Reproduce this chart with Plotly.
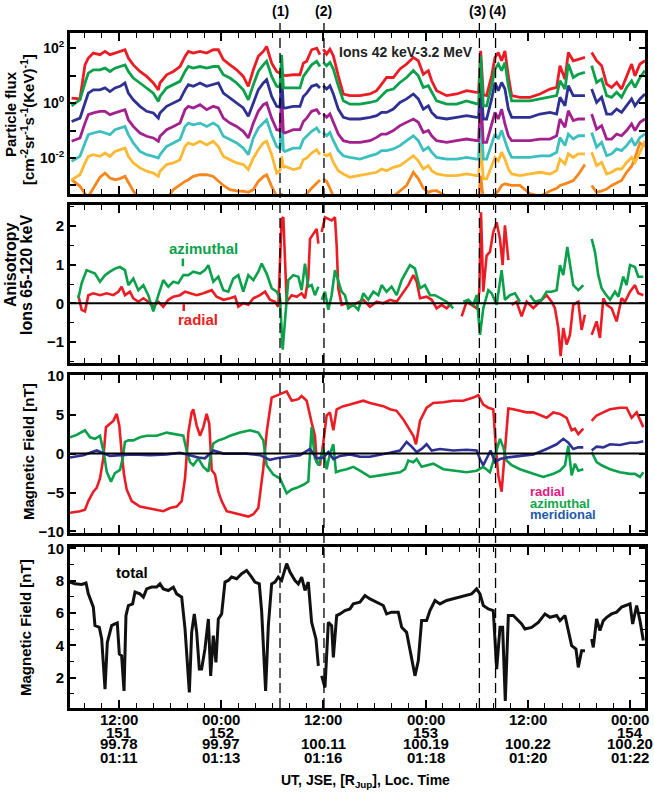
import plotly.graph_objects as go

# ---------------- time axis: hours since day 151 00:00 UT ----------------
x_range = [6.25, 73.74]
tick_hours = [12, 24, 36, 48, 60, 72]
tick_ut = ['12:00', '00:00', '12:00', '00:00', '12:00', '00:00']
tick_doy = ['151', '152', '', '153', '', '154']
tick_rjup = ['99.78', '99.97', '100.11', '100.19', '100.22', '100.20']
tick_lt = ['01:11', '01:13', '01:16', '01:18', '01:20', '01:22']
event_hours = [30.9, 36.06, 54.3, 56.2]
event_labels = ['(1)', '(2)', '(3)', '(4)']

# ---------------- panel 1: ion flux channels, log10 values ----------------
t_flux_a = [6.44, 7.42, 8.01, 8.40, 8.99, 9.77, 10.36, 10.94, 11.53, 12.12,
            12.70, 13.10, 13.68, 14.46, 15.25, 16.03, 16.62, 16.81, 17.59, 18.38,
            19.16, 19.75, 20.14, 20.72, 21.51, 22.29, 23.07, 23.66, 24.25, 25.03,
            25.81, 26.59, 27.18, 27.77, 28.35, 28.94, 29.33, 29.92, 30.51, 30.90,
            31.09, 31.29, 31.48, 32.46, 33.24, 33.64, 34.03, 34.61, 35.20, 35.59]
t_flux_b = [35.98, 36.37, 36.76, 37.16, 37.74, 38.33, 39.11, 40.28, 41.46, 42.24,
            42.83, 43.41, 44.20, 44.98, 45.76, 46.55, 47.13, 47.72, 48.31, 48.70,
            49.28, 50.46, 51.63, 52.80, 53.98, 54.21, 54.45, 54.76, 55.15, 55.74,
            56.13, 56.52, 56.91, 57.30, 57.70, 58.09, 59.06, 60.24, 61.41, 62.59,
            63.37, 63.76, 64.35, 64.74, 65.32, 65.91, 66.69]
t_flux_c = [67.48, 68.06, 68.65, 69.24, 69.82, 70.41, 70.99, 71.58, 72.17, 72.56, 73.15, 73.74]

lf_red_a = [0.18, 0.15, 1.39, 1.64, 1.82, 1.76, 1.88, 1.76, 1.82, 1.88,
            1.94, 1.64, 1.39, 1.15, 0.97, 0.73, 0.48, 0.73, 1.03, 1.15,
            1.33, 1.70, 1.88, 1.82, 1.88, 1.82, 1.94, 1.94, 1.58, 1.39,
            1.21, 0.97, 0.61, 1.21, 1.70, 1.88, 2.06, 1.45, 1.15, 1.08,
            1.03, 1.02, 1.00, 1.03, 1.03, 1.45, 1.52, 1.94, 2.00, 1.76]
lf_red_b = [1.96, 1.78, 1.96, 1.72, 0.99, 0.33, 0.27, 0.27, 0.33, 0.45,
            0.69, 0.93, 0.93, 1.24, 1.42, 1.66, 1.54, 1.05, 1.18, 0.81,
            0.45, 0.27, 0.33, 0.45, 0.39, 0.39, 1.90, 0.30, 0.27, 0.99,
            1.66, 1.84, 1.54, 1.90, 0.99, 0.27, 0.21, 0.21, 0.33, 0.51,
            0.57, 1.36, 0.87, 1.84, 1.54, 1.60, 1.66]
lf_red_c = [1.84, 1.54, 1.36, 0.69, 0.57, 0.75, 0.51, 0.99, 1.42, 0.99, 1.42, 1.54]

lf_green_a = [-0.10, 0.12, 0.73, 1.09, 1.21, 1.21, 1.27, 1.15, 1.27, 1.33,
              1.39, 1.15, 0.91, 0.73, 0.55, 0.36, 0.06, 0.24, 0.55, 0.67,
              0.79, 1.15, 1.33, 1.27, 1.33, 1.27, 1.33, 1.33, 1.03, 0.91,
              0.73, 0.48, 0.12, 0.67, 1.15, 1.39, 1.52, 0.97, 0.61, 0.58,
              1.76, 0.56, 0.55, 0.55, 0.55, 0.97, 1.15, 1.39, 1.52, 1.33]
lf_green_b = [1.48, 1.36, 1.48, 1.24, 0.63, 0.08, -0.04, -0.04, 0.02, 0.08,
              0.27, 0.45, 0.51, 0.75, 0.93, 1.18, 0.99, 0.57, 0.63, 0.39,
              0.08, -0.04, -0.04, 0.08, -0.04, -0.05, 1.72, -0.10, -0.10, 0.63,
              1.24, 1.42, 1.18, 1.48, 0.63, 0.08, 0.08, 0.08, 0.15, 0.21,
              0.27, 0.81, 0.51, 1.42, 0.93, 1.05, 1.12]
lf_green_c = [1.36, 0.75, 0.87, 0.27, 0.21, 0.39, 0.21, 0.57, 0.81, 0.57, 0.93, 1.18]

lf_blue_a = [-0.67, -0.55, 0.00, 0.36, 0.48, 0.48, 0.55, 0.42, 0.55, 0.61,
             0.73, 0.36, 0.12, -0.12, -0.30, -0.36, -0.55, -0.36, -0.12, 0.00,
             0.12, 0.48, 0.67, 0.61, 0.73, 0.61, 0.67, 0.73, 0.36, 0.18,
             0.00, -0.18, -0.48, 0.00, 0.48, 0.73, 0.85, 0.24, -0.12, -0.15,
             1.09, -0.17, -0.18, -0.12, -0.12, 0.24, 0.36, 0.61, 0.67, 0.55]
lf_blue_b = [0.63, 0.51, 0.63, 0.33, -0.22, -0.52, -0.58, -0.58, -0.52, -0.46,
             -0.34, -0.34, -0.22, 0.02, 0.15, 0.33, 0.15, -0.22, -0.10, -0.34,
             -0.52, -0.58, -0.52, -0.46, -0.52, -0.52, 0.93, -0.58, -0.58, 0.15,
             0.75, 0.45, 0.75, 0.51, -0.22, -0.52, -0.52, -0.52, -0.40, -0.34,
             -0.40, 0.21, -0.10, 0.63, 0.27, 0.27, 0.27]
lf_blue_c = [0.51, 0.02, 0.21, -0.40, -0.40, -0.22, -0.34, -0.10, 0.15, -0.10, 0.15, 0.33]

lf_purple_a = [-1.39, -1.27, -0.73, -0.42, -0.36, -0.30, -0.30, -0.42, -0.36, -0.30,
               -0.24, -0.61, -0.85, -1.09, -1.21, -1.27, -1.39, -1.21, -0.97, -0.85,
               -0.73, -0.24, -0.12, -0.18, -0.06, -0.24, -0.12, -0.18, -0.55, -0.73,
               -0.85, -1.03, -1.27, -0.73, -0.30, -0.06, 0.00, -0.55, -0.97, -1.00,
               0.36, -1.05, -1.09, -0.97, -0.97, -0.67, -0.55, -0.30, -0.24, -0.42]
lf_purple_b = [-0.40, -0.52, -0.40, -0.70, -1.13, -1.37, -1.43, -1.43, -1.37, -1.25,
               -1.13, -1.13, -1.00, -0.82, -0.70, -0.58, -0.70, -1.07, -1.00, -1.19,
               -1.37, -1.43, -1.37, -1.31, -1.37, -1.37, 0.27, -1.43, -1.43, -0.82,
               -0.34, -0.58, -0.22, -0.76, -1.19, -1.37, -1.37, -1.37, -1.31, -1.31,
               -1.19, -0.58, -0.88, -0.28, -0.64, -0.58, -0.58]
lf_purple_c = [-0.40, -0.95, -0.82, -1.31, -1.31, -1.13, -1.19, -1.00, -0.76, -1.00, -0.70, -0.58]

lf_cyan_a = [-2.12, -1.94, -1.45, -1.15, -1.09, -1.03, -1.09, -1.15, -0.97, -0.91,
             -0.85, -1.15, -1.45, -1.76, -1.88, -1.94, -2.00, -1.88, -1.58, -1.45,
             -1.33, -0.85, -0.73, -0.79, -0.73, -0.85, -0.73, -0.85, -1.21, -1.33,
             -1.45, -1.64, -1.88, -1.27, -0.91, -0.73, -0.61, -1.15, -1.58, -1.65,
             -0.24, -1.72, -1.76, -1.64, -1.64, -1.33, -1.21, -1.03, -0.91, -1.09]
lf_cyan_b = [-1.07, -1.19, -1.07, -1.37, -1.73, -1.92, -1.98, -2.04, -1.92, -1.85,
             -1.73, -1.73, -1.67, -1.55, -1.37, -1.19, -1.37, -1.73, -1.61, -1.79,
             -1.98, -2.04, -2.04, -1.98, -2.04, -2.04, -0.10, -2.04, -2.04, -1.49,
             -1.13, -1.31, -1.00, -1.37, -1.73, -1.98, -1.98, -1.98, -1.92, -1.92,
             -1.79, -1.25, -1.55, -1.13, -1.31, -1.19, -1.19]
lf_cyan_c = [-1.07, -1.61, -1.43, -1.92, -1.85, -1.67, -1.73, -1.55, -1.31, -1.55, -1.25, -1.13]

lf_yellow_a = [-2.79, -2.61, -2.18, -1.94, -1.88, -1.94, -1.82, -1.94, -1.76, -1.70,
               -1.64, -1.94, -2.18, -2.36, -2.48, -2.55, -2.67, -2.48, -2.24, -2.18,
               -2.06, -1.58, -1.45, -1.52, -1.39, -1.52, -1.39, -1.58, -1.94, -2.06,
               -2.18, -2.24, -2.42, -2.00, -1.70, -1.45, -1.39, -1.88, -2.55, -2.45,
               -1.94, -2.35, -2.30, -2.42, -2.36, -2.06, -2.00, -1.82, -1.70, -1.88]
lf_yellow_b = [-1.85, -1.92, -1.85, -2.16, -2.46, -2.58, -2.70, -2.64, -2.58, -2.52,
               -2.40, -2.46, -2.34, -2.28, -2.10, -1.92, -2.10, -2.40, -2.28, -2.46,
               -2.58, -2.64, -2.64, -2.58, -2.64, -2.64, -1.43, -2.76, -2.76, -2.28,
               -1.98, -2.10, -1.79, -2.04, -2.40, -2.58, -2.64, -2.58, -2.52, -2.58,
               -2.46, -2.04, -2.22, -1.85, -1.98, -1.85, -1.85]
lf_yellow_c = [-1.79, -2.28, -2.16, -2.58, -2.52, -2.40, -2.40, -2.16, -1.98, -2.16, -1.79, -1.37]

lf_orange_a = [-2.79, -3.03, -3.30, -3.40, -3.10, -2.70, -2.55, -2.73, -2.79, -2.75,
               -2.67, -2.90, -3.20, -3.50, -3.50, -3.50, -3.50, -3.50, -3.50, -3.15,
               -2.97, -2.85, -2.79, -2.67, -2.61, -2.61, -2.67, -2.85, -3.00, -3.15,
               -3.20, -3.21, -3.25, -3.15, -2.85, -2.68, -2.61, -3.03, -3.40, -3.50,
               -3.30, -3.50, -3.50, -3.50, -3.50, -3.40, -3.30, -3.10, -2.90, -2.80]
lf_orange_b = [-2.76, -2.85, -3.10, -3.40, -3.50, -3.50, -3.50, -3.50, -3.50, -3.50,
               -3.50, -3.50, -3.40, -3.20, -3.00, -2.52, -2.75, -3.10, -3.25, -3.20,
               -3.19, -3.40, -3.50, -3.50, -3.50, -3.50, -2.64, -3.50, -3.50, -3.40,
               -3.30, -3.20, -3.00, -2.94, -2.97, -3.00, -3.00, -3.30, -3.40, -3.20,
               -3.10, -3.00, -2.94, -2.90, -2.82, -2.60, -2.24]
lf_orange_c = [-3.00, -3.25, -3.20, -3.13, -3.00, -2.90, -2.82, -2.52, -2.30, -2.00, -1.45, -1.58]

# ---------------- panel 2: anisotropy 65-120 keV ----------------
t_aniso_rad = [7.23, 7.62, 8.01, 8.40, 8.99, 9.77, 10.55, 11.33, 11.92, 12.31,
               12.70, 13.29, 13.68, 14.27, 14.86, 15.44, 16.03, 16.62, 17.20, 17.79,
               18.38, 19.16, 19.75, 20.33, 21.12, 21.90, 22.88, 23.46, 24.25, 25.03,
               25.62, 26.01, 26.59, 27.18, 27.77, 28.55, 29.14, 29.72, 30.31, 30.70,
               31.09, 31.29, 31.48, 31.68, 32.27, 32.85, 33.44, 33.83, 34.22, 34.42,
               34.81, 35.20, 35.40, 35.60, 35.79, 36.18, 36.57, 36.96, 37.35, 37.55,
               37.74, 38.13, 38.72, 39.31, 39.89, 40.68, 41.46, 42.24, 43.02, 43.81,
               44.59, 45.37, 45.96, 46.55, 46.94, 47.33, 48.11, 48.70, 49.28, 49.87,
               50.46, 51.04, 51.60, 52.22, 52.80, 53.39, 53.98, 54.29, 54.49, 54.76,
               55.15, 55.54, 55.93, 56.33, 56.72, 57.03, 57.30, 57.70, 57.90, 58.09,
               58.67, 59.26, 59.85, 60.63, 61.41, 62.19, 62.78, 63.17, 63.56, 63.84,
               64.15, 64.54, 64.93, 65.32, 65.91, 66.30, 66.69, 67.10, 67.48, 68.06,
               68.45, 68.85, 69.24, 69.82, 70.41, 70.99, 71.39, 71.98, 72.56, 72.95,
               73.54]
aniso_rad = [0.21, -0.17, -0.21, 0.21, 0.26, 0.21, 0.26, 0.21, 0.30, 0.43,
             0.21, 0.30, 0.13, 0.04, 0.13, 0.04, -0.09, 0.04, -0.09, 0.09,
             0.17, 0.21, 0.30, 0.26, 0.21, 0.26, 0.34, 0.17, 0.09, 0.13,
             0.17, -0.09, 0.00, -0.04, 0.13, 0.21, 0.30, 0.09, 0.04, -0.09,
             2.19, 2.23, 1.07, 0.04, 0.21, 0.17, 0.26, 0.13, 0.64, 1.67,
             1.80, 1.93, 1.55, None, 1.85, 2.23, 2.19, 2.15, 2.23, 1.50,
             0.39, -0.04, 0.00, -0.04, 0.00, 0.09, -0.09, 0.04, 0.00, 0.09,
             0.04, 0.30, 0.47, 0.73, 0.56, 0.13, 0.17, 0.09, -0.13, -0.04,
             -0.13, 0.00, None, -0.34, 0.04, -0.04, -0.13, 0.30, 2.36, 0.30,
             1.24, 1.33, 1.85, 2.10, 1.67, 0.99, 2.02, 1.12, None, -0.04,
             0.04, -0.34, 0.04, -0.13, 0.04, 0.21, 0.04, -0.13, -0.64, -1.37,
             -0.64, -1.07, -0.82, -0.04, 0.04, -0.69, -0.30, None, -0.82, -0.47,
             -0.90, 0.13, -0.04, -0.13, -0.47, 0.13, 0.04, 0.30, 0.47, 0.26,
             0.21]
t_aniso_azi = [7.23, 7.62, 8.20, 8.60, 9.18, 9.77, 10.36, 10.94, 11.53, 12.12,
               12.70, 13.10, 13.68, 14.27, 14.86, 15.44, 16.03, 16.62, 17.20, 17.79,
               18.38, 18.96, 19.55, 20.14, 20.72, 21.51, 22.09, 22.49, 23.07, 23.66,
               24.25, 24.83, 25.42, 26.01, 26.59, 27.18, 27.77, 28.35, 28.75, 29.33,
               29.92, 30.51, 30.90, 31.21, 31.48, 31.87, 32.46, 33.05, 33.44, 33.83,
               34.22, 34.61, 35.00, 35.40, 35.60, 35.79, 36.18, 36.57, 36.96, 37.35,
               37.74, 38.13, 38.52, 38.92, 39.50, 40.09, 40.68, 41.26, 41.85, 42.44,
               42.83, 43.41, 44.00, 44.59, 45.18, 45.76, 46.15, 46.74, 47.33, 47.91,
               48.50, 49.09, 49.67, 50.46, 51.24, 51.80, 52.41, 53.00, 53.59, 53.98,
               54.37, 54.76, 55.35, 55.74, 56.33, 56.91, 57.30, 57.89, 58.48, 59.06,
               59.60, 60.24, 60.82, 61.61, 62.19, 62.78, 63.37, 63.76, 64.15, 64.62,
               64.93, 65.32, 65.91, 66.50, 67.00, 67.48, 67.87, 68.26, 68.65, 69.04,
               69.63, 70.22, 70.61, 71.19, 71.58, 71.98, 72.56, 72.95, 73.54]
aniso_azi = [0.13, 0.52, 0.86, 0.82, 0.77, 0.56, 0.73, 0.82, 0.90, 0.94,
             0.86, 0.47, 0.64, 0.34, 0.47, 0.21, -0.21, 0.21, 0.60, 0.43,
             0.56, 0.52, 0.73, 0.73, 0.82, 0.77, 0.86, 0.99, 0.56, 0.69,
             0.34, 0.30, 0.64, 0.73, 0.30, 0.73, 0.60, 0.82, 1.03, 0.77,
             0.39, 0.30, 0.13, -1.20, -0.47, 0.60, 0.73, 0.69, 0.34, 1.03,
             0.43, 0.47, 0.21, 0.43, None, 0.09, 0.30, -0.17, 0.21, 0.86,
             0.56, 0.30, 0.21, -0.13, -0.04, -0.17, 0.26, 0.09, 0.30, 0.21,
             0.47, 0.30, 0.43, 0.21, 0.60, 0.82, 0.99, 0.90, 0.39, 0.47,
             0.21, 0.21, 0.13, 0.04, -0.13, None, 0.04, 0.09, -0.04, 0.21,
             -0.82, -0.13, 0.34, 0.26, -0.04, 0.86, 0.09, 0.21, 0.26, 0.04,
             None, 0.21, 0.04, 0.09, 0.30, 0.30, 0.34, 0.99, 0.73, 1.46,
             1.07, 0.47, 0.34, 0.47, None, 1.67, 1.33, 0.73, 0.39, 0.26,
             0.09, 0.30, 0.17, 0.69, 0.47, 0.99, 0.94, 0.69, 0.69]

# ---------------- panel 3: magnetic field components [nT] ----------------
t_br = [6.25, 7.42, 8.01, 8.40, 8.99, 9.38, 9.77, 10.16, 10.47, 10.94,
        11.33, 11.73, 12.04, 12.31, 12.59, 12.90, 13.49, 14.46, 15.25, 16.42,
        17.20, 17.99, 18.77, 19.36, 19.75, 20.14, 20.53, 20.72, 21.12, 21.51,
        21.90, 22.29, 22.60, 22.88, 23.27, 23.66, 24.05, 24.64, 25.42, 26.40,
        27.18, 27.77, 28.35, 28.94, 29.33, 29.92, 30.70, 31.68, 32.27, 33.05,
        33.44, 34.03, 34.61, 35.00, 35.20, 35.59, 35.98, 36.37, 36.76, 37.16,
        37.55, 38.33, 39.11, 39.89, 40.68, 41.46, 42.24, 43.02, 43.81, 44.59,
        45.37, 46.15, 46.55, 46.86, 47.33, 48.11, 48.89, 50.07, 51.24, 52.41,
        53.59, 54.17, 54.76, 55.35, 55.93, 56.25, 56.52, 56.91, 57.30, 57.70,
        58.28, 59.06, 59.85, 60.63, 61.41, 62.19, 62.98, 63.76, 64.54, 65.13,
        65.52, 65.91, 66.50, 67.00, 67.48, 68.06, 68.85, 69.63, 70.80, 71.58,
        72.17, 72.76, 73.54]
b_rad = [-7.6, -7.4, -7.2, -6.1, -4.9, -4.4, -3.2, -0.6, 3.4, 3.8,
         4.2, 5.1, 3.6, 0.2, -2.7, -4.6, -6.1, -6.8, -7.0, -7.2,
         -7.4, -7.0, -6.8, -6.1, -3.2, 2.7, 5.3, 5.7, 3.6, 2.3,
         3.4, 5.1, 3.8, -2.1, -2.7, -4.9, -6.1, -7.4, -7.6, -7.8,
         -8.1, -7.8, -7.0, -1.9, 2.7, 7.2, 7.6, 8.0, 6.8, 7.0,
         7.4, 6.8, 4.0, 2.3, -1.1, -1.5, 1.4, 4.9, 5.3, 3.0,
         5.7, 6.1, 6.3, 6.5, 6.8, 6.5, 6.3, 6.1, 5.7, 5.5,
         4.4, 3.1, 2.3, 1.2, 4.2, 5.9, 6.5, 6.6, 6.8, 6.8,
         7.2, 7.5, 6.3, 5.9, 5.7, 0.6, -2.8, -4.9, 1.0, 5.8,
         5.7, 5.5, 5.3, 5.3, 4.9, 4.6, 5.3, 5.1, 4.6, 3.0,
         3.2, 2.5, 3.2, None, 4.2, 4.9, 5.3, 5.7, 5.9, 5.9,
         4.6, 5.3, 3.4]
t_bphi = [6.25, 7.03, 8.01, 8.60, 9.18, 9.77, 10.24, 10.55, 11.06, 11.53,
          12.12, 12.43, 12.70, 13.10, 13.68, 14.46, 15.25, 16.42, 17.59, 18.77,
          19.55, 19.94, 20.33, 20.72, 21.31, 21.90, 22.49, 22.76, 23.07, 23.66,
          24.25, 25.03, 26.20, 27.38, 28.35, 28.94, 29.33, 30.11, 30.90, 31.68,
          32.27, 32.85, 33.64, 34.22, 34.61, 35.00, 35.40, 35.98, 36.37, 36.76,
          37.16, 37.47, 37.94, 38.72, 39.50, 40.28, 41.46, 42.63, 43.81, 44.98,
          45.57, 45.96, 46.55, 46.94, 47.52, 48.11, 48.89, 50.07, 51.24, 52.80,
          53.98, 54.76, 55.54, 56.13, 56.72, 57.11, 57.50, 58.09, 59.06, 60.63,
          61.80, 62.98, 63.76, 64.35, 64.74, 65.13, 65.52, 65.91, 66.50, 67.00,
          67.48, 68.06, 68.65, 69.63, 70.80, 71.98, 72.56, 73.15, 73.54]
b_azi = [2.1, 2.4, 3.0, 2.1, 1.9, 2.3, 0.0, -2.3, -3.6, -2.5,
         -2.1, -0.6, 1.5, 1.7, 1.7, 2.1, 2.3, 2.3, 2.7, 2.5,
         2.3, 0.4, -1.1, -1.5, -0.6, -1.7, -2.3, -0.2, 1.3, 1.7,
         1.9, 2.3, 2.7, 3.0, 2.7, 1.7, -1.5, -2.7, -3.2, -5.1,
         -4.6, -4.4, -4.0, -3.6, 3.4, -0.6, -1.5, 0.6, -2.0, 0.0,
         1.2, -2.4, -2.2, -2.0, -1.7, -2.2, -3.0, -2.8, -2.6, -2.4,
         -2.0, -0.9, -1.1, -0.7, -1.7, -1.5, -1.3, -2.0, -2.2, -2.4,
         -2.2, -1.7, -2.4, -0.3, 1.9, 0.8, -0.9, -1.5, -2.0, -2.6,
         -3.0, -2.6, -2.2, -1.5, 1.0, -2.8, -1.3, -2.2, -2.0, None,
         0.2, -1.1, -1.5, -2.0, -2.4, -2.6, -2.6, -3.0, -2.4]
t_bth = [6.25, 7.81, 9.38, 10.16, 10.94, 12.12, 13.68, 15.64, 17.59, 19.16,
         20.33, 21.31, 22.09, 23.07, 24.25, 25.42, 26.98, 28.55, 29.72, 30.51,
         31.68, 33.24, 34.42, 35.20, 35.98, 36.57, 37.16, 37.94, 39.11, 40.28,
         41.46, 42.63, 43.81, 44.98, 45.76, 46.35, 46.94, 47.52, 48.11, 48.70,
         49.67, 51.24, 52.80, 53.98, 54.37, 54.76, 55.15, 55.62, 56.13, 56.72,
         57.50, 59.06, 60.63, 62.19, 63.37, 64.15, 64.74, 65.32, 65.91, 66.50,
         67.00, 67.48, 68.06, 68.85, 69.63, 70.80, 71.98, 72.76, 73.54]
b_mer = [-0.5, -0.2, 0.4, 0.0, -0.3, -0.2, -0.1, -0.2, -0.1, 0.1,
         -0.2, -0.5, -0.6, 0.4, 0.0, 0.0, 0.0, -0.2, -0.8, -0.6,
         -0.4, -0.2, 0.6, -0.6, -0.5, 0.2, -0.7, -0.3, -0.1, -0.4,
         -0.4, -0.2, 0.1, 0.4, 1.5, 0.9, 0.2, 0.6, 1.2, 0.4,
         0.6, 0.4, 0.5, 0.4, -0.7, -1.5, -0.7, 0.4, -1.1, -0.7,
         -0.5, -0.3, -0.1, 0.6, 1.2, 1.9, 1.4, 0.6, 0.8, 0.8,
         None, 0.4, 0.9, 0.8, 1.2, 1.1, 1.4, 1.4, 1.6]

# ---------------- panel 4: total magnetic field [nT] ----------------
t_btot = [6.25, 6.84, 7.62, 8.13, 8.40, 8.79, 8.99, 9.18, 9.69, 9.97,
          10.36, 10.63, 11.14, 11.53, 11.80, 12.04, 12.31, 12.59, 12.82, 13.10,
          13.60, 13.88, 14.46, 14.86, 15.25, 15.83, 16.42, 16.81, 17.20, 17.79,
          18.38, 18.77, 19.36, 19.75, 20.26, 20.53, 20.84, 21.12, 21.43, 21.70,
          22.09, 22.49, 22.76, 23.07, 23.38, 23.66, 24.05, 24.44, 24.83, 25.22,
          25.81, 26.40, 26.98, 27.57, 27.96, 28.47, 28.75, 29.21, 29.53, 29.92,
          30.31, 30.70, 31.09, 31.68, 32.07, 32.66, 33.05, 33.44, 33.83, 34.22,
          34.61, 35.12, 35.40, 35.60, 35.79, 36.18, 36.57, 36.96, 37.16, 37.55,
          37.94, 38.52, 39.11, 39.50, 40.28, 40.87, 41.46, 42.24, 43.02, 43.41,
          44.00, 44.78, 45.18, 45.76, 46.15, 46.74, 47.13, 47.52, 48.11, 48.50,
          49.09, 49.67, 50.46, 51.24, 52.02, 52.80, 53.39, 53.98, 54.37, 54.76,
          55.35, 55.93, 56.33, 56.72, 57.03, 57.34, 57.70, 58.28, 58.87, 59.26,
          59.65, 60.43, 61.22, 62.00, 62.59, 63.37, 63.76, 64.35, 64.74, 65.13,
          65.64, 65.91, 66.30, 66.69, 67.10, 67.48, 67.67, 68.06, 68.45, 68.85,
          69.24, 69.82, 70.41, 70.99, 71.58, 71.98, 72.29, 72.76, 73.15, 73.54]
b_tot = [7.91, 7.80, 7.76, 7.85, 7.18, 6.56, 6.36, 5.22, 5.11, 4.39,
         1.28, 4.18, 5.22, 5.32, 5.38, 3.46, 3.35, 1.18, 5.84, 6.46,
         6.56, 7.29, 7.18, 6.98, 7.49, 7.60, 7.60, 7.80, 7.49, 7.39,
         7.60, 7.18, 6.98, 5.01, 1.08, 4.80, 5.94, 4.80, 2.53, 2.53,
         3.77, 5.63, 2.11, 4.60, 2.94, 5.63, 5.94, 7.91, 8.01, 8.22,
         8.12, 8.43, 8.63, 8.22, 7.91, 7.80, 6.05, 1.18, 5.22, 7.80,
         7.91, 8.22, 8.01, 9.05, 8.53, 8.01, 7.80, 8.22, 7.39, 7.91,
         5.42, 4.39, 2.73, None, 2.11, 1.39, 5.42, 5.22, 3.25, 5.84,
         5.94, 6.15, 6.25, 6.56, 6.67, 7.08, 6.87, 6.67, 6.46, 5.94,
         6.05, 6.05, 5.11, 4.80, 3.77, 2.11, 3.04, 5.53, 5.53, 6.15,
         6.77, 6.56, 6.77, 6.87, 6.98, 7.08, 7.18, 7.49, 7.18, 6.46,
         6.25, 6.15, 2.53, 5.11, 5.11, 0.56, 5.84, 5.84, 5.53, 5.32,
         5.01, 5.11, 5.42, 5.94, 5.73, 5.84, 5.53, 5.84, 4.91, 3.98,
         3.77, 2.63, 3.66, 3.66, None, 4.39, 3.87, 5.63, 4.91, 5.53,
         5.73, 5.94, 6.05, 6.36, 6.46, 6.56, 5.32, 6.46, 5.53, 4.29]

# ---------------- styles ----------------
RED = '#ec1c24'
GREEN = '#0ba14b'
BLUE = '#2e3192'
PURPLE = '#a3218e'
CYAN = '#3cbfbf'
YELLOW = '#fdb933'
ORANGE = '#f7861d'
FONT = 'Liberation Sans'

fig = go.Figure()

t_flux = t_flux_a + [35.8] + t_flux_b + [67.1] + t_flux_c


def flux(a, b, c):
    return [10 ** v for v in a] + [None] + [10 ** v for v in b] + [None] + [10 ** v for v in c]


flux_series = [
    (lf_orange_a, lf_orange_b, lf_orange_c, ORANGE),
    (lf_yellow_a, lf_yellow_b, lf_yellow_c, YELLOW),
    (lf_cyan_a, lf_cyan_b, lf_cyan_c, CYAN),
    (lf_purple_a, lf_purple_b, lf_purple_c, PURPLE),
    (lf_blue_a, lf_blue_b, lf_blue_c, BLUE),
    (lf_red_a, lf_red_b, lf_red_c, RED),
    (lf_green_a, lf_green_b, lf_green_c, GREEN),
]
for a, b, c, col in flux_series:
    fig.add_trace(go.Scatter(x=t_flux, y=flux(a, b, c), mode='lines',
                             line=dict(color=col, width=2.8), xaxis='x', yaxis='y',
                             showlegend=False, connectgaps=False))

fig.add_trace(go.Scatter(x=t_aniso_rad, y=aniso_rad, mode='lines', line=dict(color=RED, width=2.6),
                         xaxis='x2', yaxis='y2', showlegend=False))
fig.add_trace(go.Scatter(x=t_aniso_azi, y=aniso_azi, mode='lines', line=dict(color=GREEN, width=2.6),
                         xaxis='x2', yaxis='y2', showlegend=False))

fig.add_trace(go.Scatter(x=t_br, y=b_rad, mode='lines', line=dict(color=RED, width=2.6),
                         xaxis='x3', yaxis='y3', showlegend=False))
fig.add_trace(go.Scatter(x=t_bphi, y=b_azi, mode='lines', line=dict(color=GREEN, width=2.6),
                         xaxis='x3', yaxis='y3', showlegend=False))
fig.add_trace(go.Scatter(x=t_bth, y=b_mer, mode='lines', line=dict(color=BLUE, width=2.6),
                         xaxis='x3', yaxis='y3', showlegend=False))

fig.add_trace(go.Scatter(x=t_btot, y=b_tot, mode='lines', line=dict(color='#111111', width=3),
                         xaxis='x4', yaxis='y4', showlegend=False))

# ---------------- axes ----------------
xcommon = dict(range=x_range, showline=True, linewidth=3, linecolor='black', mirror='ticks',
               ticks='inside', ticklen=8, tickwidth=1.5, tickcolor='black', tick0=0, dtick=12,
               minor=dict(dtick=2, ticks='inside', ticklen=5, tickwidth=1, tickcolor='black'),
               showgrid=False, zeroline=False, showticklabels=False, automargin=False)
ycommon = dict(showline=True, linewidth=3, linecolor='black', mirror='ticks', ticks='inside',
               ticklen=6, tickwidth=1.5, tickcolor='black', showgrid=False, zeroline=False,
               automargin=False,
               tickfont=dict(family=FONT, size=15, color='black', weight='bold'))

dom1 = [0.7615, 1.0]
dom2 = [0.5111, 0.7452]
dom3 = [0.2593, 0.4933]
dom4 = [0.0, 0.2385]

fig.update_layout(
    width=654, height=797,
    margin=dict(l=70, r=9, t=33, b=89),
    paper_bgcolor='white', plot_bgcolor='white',
    xaxis=dict(xcommon, anchor='y'),
    xaxis2=dict(xcommon, anchor='y2', matches='x'),
    xaxis3=dict(xcommon, anchor='y3', matches='x'),
    xaxis4=dict(xcommon, anchor='y4', matches='x'),
    yaxis=dict(ycommon, domain=dom1, anchor='x', type='log', range=[-3.31, 2.55],
               tickvals=[1e-2, 1, 100],
               ticktext=['10<sup>-2</sup>', '10<sup>0</sup>', '10<sup>2</sup>'],
               minor=dict(tickvals=[1e-3, 1e-1, 10], ticks='inside', ticklen=6, tickwidth=1.5,
                          tickcolor='black'),
               tickfont=dict(family=FONT, size=14, color='black', weight='bold')),
    yaxis2=dict(ycommon, domain=dom2, anchor='x2', range=[-1.55, 2.55],
                tickvals=[-1, 0, 1, 2],
                minor=dict(dtick=0.5, ticks='inside', ticklen=4, tickwidth=1, tickcolor='black')),
    yaxis3=dict(ycommon, domain=dom3, anchor='x3', range=[-10.2, 10.1],
                tickvals=[-10, -5, 0, 5, 10]),
    yaxis4=dict(ycommon, domain=dom4, anchor='x4', range=[0.12, 10.08],
                tickvals=[2, 4, 6, 8, 10],
                minor=dict(dtick=1, ticks='inside', ticklen=4, tickwidth=1, tickcolor='black')),
)

# ---------------- shapes ----------------
shapes = []
for t in event_hours:
    shapes.append(dict(type='line', xref='x', yref='paper', x0=t, x1=t, y0=0, y1=1.021,
                       line=dict(color='black', width=1.3, dash='10px,5px')))
for yr in ['y2', 'y3']:
    shapes.append(dict(type='line', xref='paper', yref=yr, x0=0, x1=1, y0=0, y1=0,
                       line=dict(color='black', width=2)))
# small markers under the anisotropy labels
shapes.append(dict(type='line', xref='x2', yref='y2', x0=19.5, x1=19.5, y0=0.96, y1=1.16,
                   line=dict(color=GREEN, width=2.5)))
shapes.append(dict(type='line', xref='x2', yref='y2', x0=19.6, x1=19.6, y0=-0.02, y1=-0.2,
                   line=dict(color=RED, width=2.5)))
fig.update_layout(shapes=shapes)

# ---------------- annotations ----------------
ann = []


def bold(s):
    return '<b>' + s + '</b>'


def px_x(px):
    return (px - 70) / 575.0


def px_y(py):
    return (708 - py) / 675.0


label_shift = [0, 0, -2, 2]
for t, lab, sh in zip(event_hours, event_labels, label_shift):
    ann.append(dict(text=bold(lab), x=t, y=px_y(11), xref='x', yref='paper', showarrow=False,
                    xanchor='center', yanchor='middle', xshift=sh,
                    font=dict(family=FONT, size=14, color='black')))

rows = [tick_ut, tick_doy, tick_rjup, tick_lt]
row_y = [719, 732, 744, 757]
for row, ry in zip(rows, row_y):
    for t, s in zip(tick_hours, row):
        if s:
            ann.append(dict(text=bold(s), x=t, y=px_y(ry), xref='x4', yref='paper', showarrow=False,
                            xanchor='center', yanchor='middle',
                            font=dict(family=FONT, size=15, color='black')))

ann.append(dict(text=bold('UT, JSE, [R<sub>Jup</sub>], Loc. Time'), x=px_x(365), y=px_y(781),
                xref='paper', yref='paper', showarrow=False, xanchor='center', yanchor='middle',
                font=dict(family=FONT, size=14, color='black')))

ytitles = [
    ('Particle flux', 10, 114, 15),
    ('[cm<sup>-2</sup>sr<sup>-1</sup>s<sup>-1</sup>(KeV)<sup>-1</sup>]', 27, 120, 15),
    ('Anisotropy', 10, 265, 16),
    ('Ions 65-120 keV', 26, 275, 16),
    ('Magnetic Field [nT]', 28, 452, 15),
    ('Magnetic Field [nT]', 25, 628, 15),
]
for txt, xp, yp, fs in ytitles:
    ann.append(dict(text=bold(txt), x=px_x(xp), y=px_y(yp), xref='paper', yref='paper',
                    showarrow=False, textangle=-90, xanchor='center', yanchor='middle',
                    font=dict(family=FONT, size=fs, color='black')))

ann.append(dict(text=bold('Ions 42 keV-3.2 MeV'), x=px_x(406), y=px_y(52), xref='paper', yref='paper',
                showarrow=False, xanchor='center', yanchor='middle',
                font=dict(family=FONT, size=14, color='#222222')))
ann.append(dict(text=bold('azimuthal'), x=px_x(203), y=px_y(248), xref='paper', yref='paper',
                showarrow=False, xanchor='center', yanchor='middle',
                font=dict(family=FONT, size=15, color=GREEN)))
ann.append(dict(text=bold('radial'), x=px_x(198), y=px_y(319), xref='paper', yref='paper',
                showarrow=False, xanchor='center', yanchor='middle',
                font=dict(family=FONT, size=15, color=RED)))
legend_items = [('radial', '#e5197d', 491), ('azimuthal', '#13a64b', 503), ('meridional', '#1f5aa8', 514)]
for txt, col, yp in legend_items:
    ann.append(dict(text=bold(txt), x=px_x(528), y=px_y(yp), xref='paper', yref='paper',
                    showarrow=False, xanchor='left', yanchor='middle',
                    font=dict(family=FONT, size=13, color=col)))
ann.append(dict(text=bold('total'), x=px_x(132), y=px_y(572), xref='paper', yref='paper',
                showarrow=False, xanchor='center', yanchor='middle',
                font=dict(family=FONT, size=15, color='black')))

fig.update_layout(annotations=ann)

# remove the default 8 px page margin so the figure sits at the window's top-left corner,
# and hide the interactive mode bar
fig.write_html('out.html',
               config={'displayModeBar': False},
               post_script="document.body.style.margin='0';document.body.style.overflow='hidden';")
